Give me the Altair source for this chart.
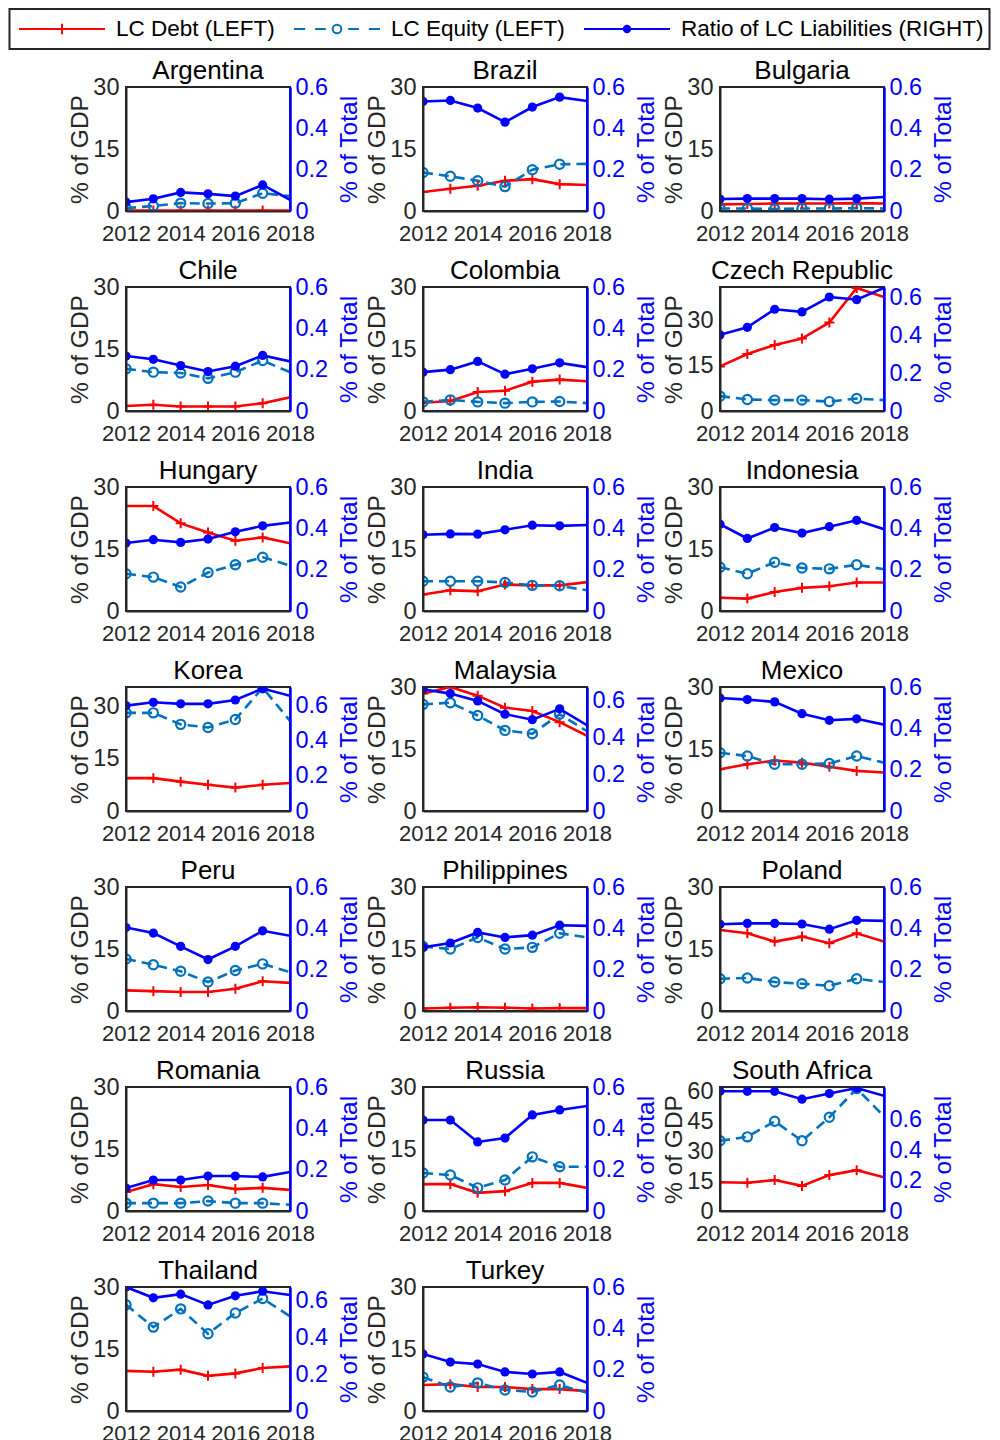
import altair as alt
import pandas as pd

countries = ["Argentina", "Brazil", "Bulgaria", "Chile", "Colombia", "Czech Republic",
             "Hungary", "India", "Indonesia", "Korea", "Malaysia", "Mexico",
             "Peru", "Philippines", "Poland", "Romania", "Russia", "South Africa",
             "Thailand", "Turkey"]
years = [2012, 2013, 2014, 2015, 2016, 2017, 2018]

debt = {
    "Argentina": [0.1, 0.1, 0.1, 0.1, 0.1, 0.1, 0.1],
    "Brazil": [4.6, 5.4, 6.1, 7.3, 7.7, 6.5, 6.3],
    "Bulgaria": [1.6, 1.7, 1.8, 1.8, 1.8, 1.9, 1.8],
    "Chile": [1.2, 1.5, 1.1, 1.1, 1.1, 1.9, 3.3],
    "Colombia": [2.0, 2.4, 4.6, 4.9, 7.1, 7.6, 7.2],
    "Czech Republic": [14.7, 18.8, 21.8, 23.9, 29.2, 40.6, 37.6],
    "Hungary": [25.4, 25.4, 21.2, 19.0, 17.0, 17.8, 16.4],
    "India": [4.0, 5.0, 4.8, 6.4, 6.2, 6.2, 7.0],
    "Indonesia": [3.2, 3.0, 4.6, 5.6, 6.0, 6.9, 6.9],
    "Korea": [9.4, 9.4, 8.4, 7.5, 6.7, 7.5, 8.0],
    "Malaysia": [28.4, 30.0, 27.9, 25.0, 24.2, 21.5, 18.2],
    "Mexico": [10.1, 11.3, 12.2, 11.7, 10.7, 9.7, 9.3],
    "Peru": [5.0, 4.8, 4.6, 4.6, 5.4, 7.2, 6.8],
    "Philippines": [0.6, 0.8, 0.9, 0.8, 0.6, 0.7, 0.7],
    "Poland": [19.6, 18.8, 16.8, 18.0, 16.4, 18.8, 16.8],
    "Romania": [4.6, 6.5, 5.8, 6.3, 5.3, 5.6, 5.1],
    "Russia": [6.5, 6.5, 4.4, 4.8, 6.8, 6.8, 5.6],
    "South Africa": [14.4, 14.2, 15.5, 12.6, 18.0, 20.5, 16.9],
    "Thailand": [9.7, 9.5, 10.0, 8.5, 9.1, 10.4, 10.8],
    "Turkey": [6.3, 6.5, 5.8, 5.8, 5.3, 5.3, 4.8],
}
equity = {
    "Argentina": [0.7, 1.2, 1.9, 1.8, 1.9, 4.3, 3.6],
    "Brazil": [9.3, 8.4, 7.3, 5.9, 10.0, 11.3, 11.4],
    "Bulgaria": [0.6, 0.6, 0.5, 0.6, 0.6, 0.7, 0.6],
    "Chile": [10.2, 9.4, 9.2, 7.9, 9.4, 12.2, 9.4],
    "Colombia": [2.2, 2.7, 2.2, 1.9, 2.2, 2.3, 1.9],
    "Czech Republic": [4.9, 3.8, 3.6, 3.6, 3.1, 4.1, 3.6],
    "Hungary": [9.0, 8.2, 5.8, 9.3, 11.2, 13.0, 11.0],
    "India": [7.2, 7.2, 7.2, 6.9, 6.2, 6.1, 5.0],
    "Indonesia": [10.6, 9.0, 11.8, 10.4, 10.2, 11.2, 10.1],
    "Korea": [28.1, 28.1, 24.8, 23.9, 26.2, 35.3, 25.8],
    "Malaysia": [25.8, 26.2, 23.1, 19.5, 18.7, 23.4, 19.3],
    "Mexico": [14.1, 13.3, 11.3, 11.3, 11.5, 13.3, 11.7],
    "Peru": [12.6, 11.2, 9.6, 7.0, 9.8, 11.4, 9.4],
    "Philippines": [15.6, 15.0, 17.8, 15.0, 15.4, 18.8, 17.8],
    "Poland": [7.8, 8.0, 7.0, 6.6, 6.1, 7.8, 7.0],
    "Romania": [1.9, 1.9, 1.9, 2.4, 1.9, 1.9, 1.5],
    "Russia": [9.2, 8.7, 5.6, 7.5, 13.1, 10.7, 10.7],
    "South Africa": [35.2, 37.2, 45.0, 35.2, 47.0, 61.4, 47.5],
    "Thailand": [25.7, 20.3, 24.7, 18.7, 23.7, 27.2, 22.9],
    "Turkey": [8.2, 5.8, 6.8, 5.1, 4.6, 6.3, 4.4],
}
ratio = {
    "Argentina": [0.043, 0.059, 0.090, 0.083, 0.072, 0.126, 0.054],
    "Brazil": [0.530, 0.535, 0.498, 0.430, 0.503, 0.551, 0.532],
    "Bulgaria": [0.058, 0.060, 0.060, 0.060, 0.057, 0.060, 0.068],
    "Chile": [0.266, 0.250, 0.220, 0.191, 0.217, 0.269, 0.240],
    "Colombia": [0.188, 0.200, 0.240, 0.178, 0.204, 0.233, 0.212],
    "Czech Republic": [0.404, 0.444, 0.540, 0.526, 0.605, 0.591, 0.654],
    "Hungary": [0.329, 0.345, 0.332, 0.348, 0.383, 0.412, 0.428],
    "India": [0.369, 0.373, 0.372, 0.393, 0.415, 0.412, 0.416],
    "Indonesia": [0.420, 0.351, 0.404, 0.377, 0.408, 0.439, 0.396],
    "Korea": [0.600, 0.619, 0.610, 0.610, 0.632, 0.697, 0.656],
    "Malaysia": [0.664, 0.640, 0.600, 0.528, 0.498, 0.557, 0.468],
    "Mexico": [0.547, 0.539, 0.528, 0.471, 0.439, 0.446, 0.418],
    "Peru": [0.404, 0.377, 0.313, 0.249, 0.313, 0.388, 0.364],
    "Philippines": [0.308, 0.329, 0.380, 0.356, 0.367, 0.415, 0.412],
    "Poland": [0.420, 0.424, 0.424, 0.421, 0.396, 0.439, 0.436],
    "Romania": [0.111, 0.150, 0.150, 0.169, 0.169, 0.165, 0.189],
    "Russia": [0.440, 0.440, 0.334, 0.353, 0.465, 0.489, 0.508],
    "South Africa": [0.786, 0.786, 0.786, 0.734, 0.771, 0.807, 0.756],
    "Thailand": [0.676, 0.617, 0.637, 0.578, 0.628, 0.653, 0.632],
    "Turkey": [0.276, 0.237, 0.227, 0.189, 0.179, 0.189, 0.136],
}

# axis limits
left_max = {"Czech Republic": 40.9, "Korea": 35.5, "South Africa": 62.2}
right_max = {"Czech Republic": 0.658, "Korea": 0.706, "Malaysia": 0.676,
             "Thailand": 0.676, "South Africa": 0.814}
left_ticks_default = [0, 15, 30]
left_ticks = {"South Africa": [0, 15, 30, 45, 60]}
right_ticks = [0, 0.2, 0.4, 0.6]
x_ticks = [2012, 2014, 2016, 2018]

series = ["LC Debt (LEFT)", "LC Equity (LEFT)", "Ratio of LC Liabilities (RIGHT)"]

RED = "#FF0000"
TEAL = "#0072BD"
BLUE = "#0000FF"
DARK = "#262626"
FONT = "Liberation Sans"
TICK_FS = 23.5
XTICK_FS = 22
AXT_FS = 24.5

PLUS = "M-1,0L1,0M0,-1L0,1"
LEG_DEBT = "M-1,0L1,0M0,-0.12L0,0.12"
LEG_EQ = ("M-1,0H-0.74M-0.51,0H-0.26M0.26,0H0.51M0.74,0H1"
          "M0.1,0A0.1,0.1,0,1,1,-0.1,0A0.1,0.1,0,1,1,0.1,0")
LEG_RATIO = ("M-1,0L1,0M0.075,0A0.075,0.075,0,1,1,-0.075,0A0.075,0.075,0,1,1,0.075,0"
             "M0.04,0A0.04,0.04,0,1,1,-0.04,0A0.04,0.04,0,1,1,0.04,0")

rows = []
for c in countries:
    for i, yr in enumerate(years):
        rows.append({"country": c, "year": yr, "debt": debt[c][i],
                     "equity": equity[c][i], "ratio": ratio[c][i]})
df = pd.DataFrame(rows)

W, H = 164, 124

x_axis = alt.Axis(values=x_ticks, format="d", title=None, labelFontSize=XTICK_FS,
                  labelPadding=12.5, ticks=False, domainColor=DARK, domainWidth=2,
                  labelFlush=False, labelOverlap=False, grid=False, labelColor=DARK,
                  zindex=1)


def title_offset(lt, lmax, rmax):
    # the title sits above the axis labels' bounds; keep it 3px above the frame
    half = TICK_FS / 2.0
    ext = 0.0
    for t in lt:
        ext = max(ext, half - H * (1 - t / lmax))
    for t in right_ticks:
        ext = max(ext, half - H * (1 - t / rmax))
    return 3 - ext


def panel(c, with_legend=False):
    base = alt.Chart(df).transform_filter(alt.datum.country == c)
    pts = base.transform_filter(alt.datum.year <= 2017)
    lmax = left_max.get(c, 30)
    rmax = right_max.get(c, 0.6)
    lt = left_ticks.get(c, left_ticks_default)
    xenc = alt.X("year:Q", scale=alt.Scale(domain=[2012, 2018], nice=False, zero=False),
                 axis=x_axis)
    lscale = alt.Scale(domain=[0, lmax], nice=False, zero=True)
    laxis = alt.Axis(title="% of GDP", values=lt,
                     format="d", labelFontSize=TICK_FS, labelPadding=7, ticks=False,
                     titleFontSize=AXT_FS, titleFontWeight="normal", titlePadding=4.5,
                     minExtent=29, maxExtent=29, domainColor=DARK, domainWidth=2,
                     grid=False, labelFlush=False, labelOverlap=False,
                     labelColor=DARK, titleColor=DARK, zindex=1)
    rscale = alt.Scale(domain=[0, rmax], nice=False, zero=True)
    raxis = alt.Axis(orient="right", title="% of Total", values=right_ticks,
                     format=".1~f", labelFontSize=TICK_FS, labelPadding=5, ticks=False,
                     titleFontSize=AXT_FS, titleFontWeight="normal", titleAngle=270,
                     titleBaseline="top", titlePadding=9.5, minExtent=38, maxExtent=38,
                     labelColor=BLUE, titleColor=BLUE, domainColor=BLUE, domainWidth=2.5,
                     grid=False, labelFlush=False, labelOverlap=False, zindex=1)

    yd = alt.Y("debt:Q", scale=lscale, axis=laxis)
    ye = alt.Y("equity:Q", scale=lscale, axis=laxis)
    yr = alt.Y("ratio:Q", scale=rscale, axis=raxis)

    debt_line = base.mark_line(color=RED, strokeWidth=2.6, clip=True).encode(x=xenc, y=yd)
    debt_pts = pts.mark_point(shape=PLUS, size=100, filled=False, color=RED,
                              strokeWidth=2, opacity=1, clip=True).encode(x=xenc, y=yd)
    eq_line = base.mark_line(color=TEAL, strokeWidth=2.6, strokeDash=[10, 6],
                             clip=True).encode(x=xenc, y=ye)
    eq_pts = pts.mark_point(shape="circle", size=85, filled=False, color=TEAL,
                            strokeWidth=2.2, opacity=1, clip=True).encode(x=xenc, y=ye)
    left_layers = [debt_line, eq_line, debt_pts, eq_pts]
    if with_legend:
        leg = alt.Legend(orient="none", legendX=-116.5, legendY=-78, direction="horizontal",
                         title=None, symbolSize=7396, symbolStrokeWidth=2, clipHeight=30,
                         labelFontSize=22.5, labelOffset=10, columnPadding=14,
                         symbolOffset=3.5, padding=5, strokeColor=DARK, labelLimit=500,
                         labelColor="black", labelFont=FONT, symbolOpacity=1)
        drv = alt.Chart(pd.DataFrame({"series": series})).transform_filter("false").mark_point(
            filled=False).encode(
            color=alt.Color("series:N", scale=alt.Scale(domain=series, range=[RED, TEAL, BLUE]),
                            legend=leg),
            shape=alt.Shape("series:N", scale=alt.Scale(domain=series,
                                                        range=[LEG_DEBT, LEG_EQ, LEG_RATIO]),
                            legend=leg))
        left_layers.append(drv)
    left = alt.layer(*left_layers)

    ratio_line = base.mark_line(color=BLUE, strokeWidth=2.6, clip=True).encode(x=xenc, y=yr)
    ratio_pts = pts.mark_point(shape="circle", size=85, filled=True, color=BLUE,
                               opacity=1, clip=True).encode(x=xenc, y=yr)
    right = alt.layer(ratio_line, ratio_pts)

    return alt.layer(left, right).resolve_scale(y="independent").properties(
        width=W, height=H,
        title=alt.TitleParams(c, frame="group", offset=title_offset(lt, lmax, rmax)))


panels = [panel(c, with_legend=(i == 0)) for i, c in enumerate(countries)]

chart = alt.concat(*panels, columns=3, spacing={"row": 76, "column": 133},
                   bounds="flush").properties(
    padding={"left": 0, "top": 0, "right": 0, "bottom": 0}
).configure_view(stroke=DARK, strokeWidth=2).configure_axis(
    labelFont=FONT, titleFont=FONT
).configure_title(
    font=FONT, fontSize=26, fontWeight="normal", color="black", anchor="middle"
).configure_legend(strokeWidth=2)

chart.save("out.html", embed_options={"renderer": "svg", "actions": False})
